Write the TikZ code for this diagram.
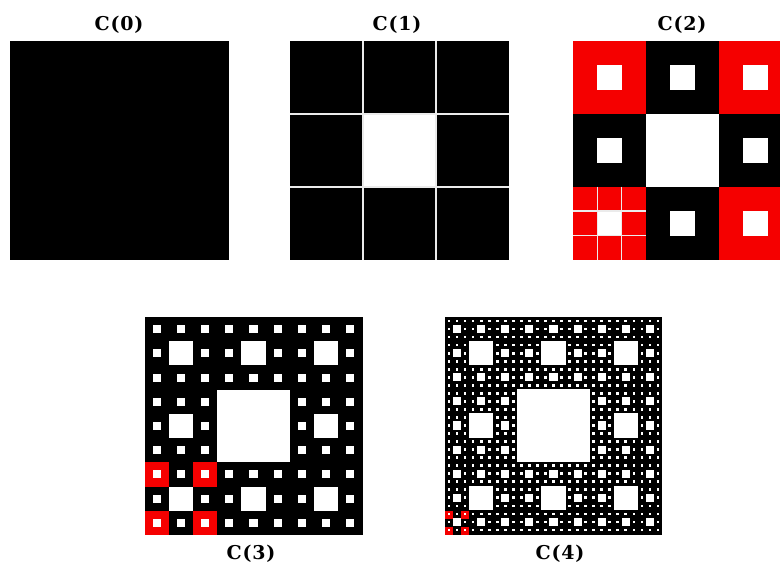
\documentclass[tikz,border=0pt]{standalone}
\usepackage{fontspec}
\usepackage{tikz}
\newfontfamily\labfont[LetterSpace=4]{DejaVu Serif}
\definecolor{carpetred}{RGB}{245, 0, 0}

% white holes of a carpet: x, y, size, levels
\newcommand\carpetholes[4]{%
  \foreach \lev in {1,...,#4}{%
    \pgfmathtruncatemacro\mx{3^(\lev-1)-1}
    \pgfmathsetmacro\cw{#3/3^\lev}
    \foreach \ii in {0,...,\mx}
      \foreach \jj in {0,...,\mx}
        \fill[white] ({#1+(3*\ii+1)*\cw},{#2+(3*\jj+1)*\cw}) rectangle ++(\cw,\cw);
  }}
% red corner cells of a block: x, y, size
\newcommand\redcorners[3]{%
  \foreach \uu in {0,2}
    \foreach \vv in {0,2}
      \fill[carpetred] ({#1+\uu*#3/3},{#2+\vv*#3/3}) rectangle ++({#3/3},{#3/3});}
% white separating lines of a block: x, y, size
\newcommand\cellgrid[3]{%
  \foreach \tt in {1,2}{%
    \draw[sep] ({#1+\tt*#3/3},#2) -- ++(0,#3);
    \draw[sep] (#1,{#2+\tt*#3/3}) -- ++(#3,0);
  }}

\begin{document}
\begin{tikzpicture}[
    x=1pt, y=-1pt,
    lab/.style={font={\labfont\bfseries\fontsize{19}{21}\selectfont}, inner sep=0pt},
    sep/.style={white!92!black, line width=1.1pt}
]
    \useasboundingbox (0,0) rectangle (780,563);
    \clip (0,0) rectangle (780,563);

    % C(0)
    \fill[black] (9.5,41) rectangle ++(219,218.5);
    % C(1)
    \fill[black] (290,41) rectangle ++(219,218.5);
    \carpetholes{290}{41}{219}{1}
    \cellgrid{290}{41}{219}
    % C(2)
    \fill[black] (573,41) rectangle ++(219,218.5);
    \redcorners{573}{41}{219}
    \carpetholes{573}{41}{219}{2}
    \cellgrid{573}{186.7}{73}
    % C(3)
    \fill[black] (144.5,317) rectangle ++(218,218);
    \redcorners{144.5}{462.3}{72.67}
    \carpetholes{144.5}{317}{218}{3}
    % C(4)
    \fill[black] (445,317) rectangle ++(217,218);
    \redcorners{445}{510.9}{24.1}
    \carpetholes{445}{317}{217}{4}

    \node[lab] (c0) at (119,25) {C(0)};
    \node[lab] (c1) at (397,25) {C(1)};
    \node[lab] (c2) at (682,25) {C(2)};
    \node[lab] (c3) at (251,554) {C(3)};
    \node[lab] (c4) at (560,554) {C(4)};
\end{tikzpicture}
\end{document}
